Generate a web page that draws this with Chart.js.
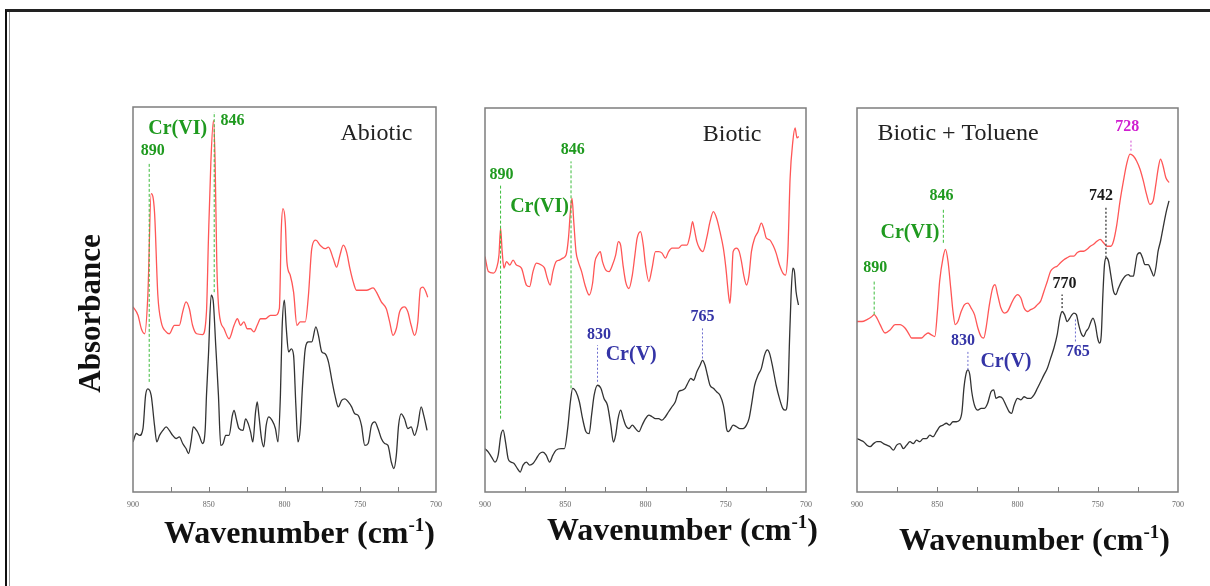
<!DOCTYPE html>
<html>
<head>
<meta charset="utf-8">
<script src="https://cdn.jsdelivr.net/npm/chart.js@4.4.0/dist/chart.umd.min.js"></script>
<style>
  body { margin: 0; background: #fff; width: 1210px; height: 586px; overflow: hidden; position: relative; }
  .frame { position: absolute; left: 5px; top: 9px; width: 1300px; height: 700px; border-left: 2px solid #111; border-top: 3px solid #222; }
  .frame2 { position: absolute; left: 9px; top: 12px; width: 1300px; height: 700px; border-left: 1px solid #999; }
  canvas { position: absolute; }
</style>
</head>
<body>
<div class="frame"></div>
<div class="frame2"></div>
<canvas id="abiotic" width="390" height="465" style="left:60px;top:97px"></canvas>
<canvas id="biotic" width="355" height="464" style="left:471px;top:98px"></canvas>
<canvas id="toluene" width="355" height="464" style="left:843px;top:98px"></canvas>
<script>
// x axis: wavenumber (cm-1), 900 -> 700, y: absorbance (arbitrary units 0-100)
var xTickLabels = [900, 850, 800, 750, 700];
var minorTicks = [875, 850, 825, 800, 775, 750, 725];

// --- Abiotic panel, [wavenumber, absorbance]
var abioticRed = [[900,48.1],[896.7,45.9],[894.5,42.4],[892.3,41.1],[890.2,51.1],[888,77.5],[885.8,72.7],[883.6,51.1],[881.4,44.2],[878.1,41.6],[876,41.1],[872.7,43.3],[869.4,43.3],[867.2,46.8],[865,49.4],[862.8,47.6],[860.7,43.3],[858,41.1],[854.1,40.9],[851.5,46.8],[850.2,65.8],[848.6,85.7],[846.9,96.5],[845.8,85.7],[844.7,59.7],[843.2,46.8],[839.9,42.4],[836.6,39.8],[833.3,43.3],[831.1,45],[829,43.3],[826.8,44.2],[824.6,42.4],[822.4,42.4],[820.2,41.6],[818,43.3],[815.8,45],[812.6,45],[809.3,45.9],[806,45.9],[803.4,47.6],[802.1,68.4],[801,73.6],[799.5,70.1],[798.4,59.7],[796.2,56.3],[794,51.9],[791.8,43.3],[789.6,44.2],[786.3,44.2],[784.2,51.1],[782,63.2],[779.3,65.4],[776.5,64.1],[773.2,63.2],[771,63.6],[767.8,60.6],[765.6,58.4],[763.4,61.5],[761.2,64.1],[759,62.3],[756.8,58],[754.6,54.5],[752.5,52.4],[749.2,52.4],[745.9,52.4],[741.5,53],[739.3,51.9],[736.1,49.4],[732.8,47.6],[730.6,44.2],[728.4,40.7],[726.2,42.4],[724,46.8],[720.8,48.1],[718.6,46.8],[716.4,43.3],[714.2,40.7],[712,44.2],[710.3,52.8],[708.7,53.2],[706.6,51.9],[705.5,50.6]];
var abioticBlack = [[900,13],[897.8,15.2],[895.6,14.7],[893.4,16.5],[891.7,25.1],[890.2,26.8],[888,25.1],[885.8,17.3],[884.3,13],[882.5,14.7],[880.3,16],[878.1,16.9],[876,16],[873.8,14.7],[871.6,13.9],[869.4,14.3],[867.2,12.6],[865,11.3],[863.3,10],[861.7,13],[860.2,16.9],[858,16],[856.3,14.7],[854.1,12.6],[852.3,16.5],[851.5,25.1],[850.2,35.5],[848.4,51.1],[847.1,49.8],[845.4,38.1],[843.6,25.1],[842.1,12.1],[840.5,12.6],[838.8,14.7],[836.6,14.7],[834.4,19.9],[833.3,21.2],[831.8,19],[830.1,16.5],[827.4,16],[825.7,19],[823.9,17.7],[822.4,15.6],[820.9,13],[819.1,20.8],[818,23.4],[816.9,19.9],[815.2,13.9],[813.7,11.7],[812.1,17.3],[810.4,19.5],[808.2,18.6],[806,16.5],[804.3,13],[802.7,25.1],[801.6,42.4],[800.1,49.8],[798.8,42.4],[797.3,36.4],[795.5,37.2],[794,35.5],[792.5,22.5],[791.1,13],[789.6,16.5],[788.1,27.7],[786.3,37.2],[784.2,39],[782,39],[779.3,42.9],[777.6,40.7],[775.4,36.4],[773.2,35.9],[771,33.8],[768.9,29.4],[766.7,25.1],[764.5,22.1],[762.3,23.8],[760.1,24.2],[757.9,23.4],[755.7,22.1],[753.6,20.3],[751.4,19.9],[749.2,17.3],[747,12.1],[744.8,12.6],[742.6,17.3],[740.4,18.2],[738.3,16.5],[736.1,13.9],[733.9,12.6],[731.7,12.1],[729.5,7.8],[727.8,6.1],[726.2,9.5],[724.7,17.3],[723,20.3],[720.8,19],[718.6,16.5],[716.4,16.9],[714.2,14.7],[712,17.3],[709.8,22.1],[708.1,19.9],[705.9,16]];

// --- Biotic panel
var bioticRed = [[900,61.3],[897.9,57.4],[894.8,57],[892.8,58.3],[891.3,61.7],[890.3,68.7],[889.3,62.6],[888.2,58.3],[886.6,60],[884.5,59.1],[882.5,60.4],[880.4,59.1],[877.3,58.3],[874.2,53.9],[872.2,53.5],[870.1,57.4],[868,59.6],[864.9,59.1],[862.9,58.3],[861.2,55.7],[859.4,53.9],[857.7,57.4],[855.7,60],[853.6,60.4],[851.5,60.9],[849.5,61.7],[848,66.1],[846.8,73],[845.8,76.5],[844.7,70.4],[843.3,62.6],[841.9,60],[839.8,57.4],[837.7,53.9],[835.1,51.3],[833,54.3],[831.5,60],[829.9,61.7],[828.2,62.6],[826.8,60],[824.7,57.8],[822.7,57.4],[820.6,59.1],[818.6,61.7],[816.9,65.2],[815.5,64.3],[814,59.1],[812.4,54.8],[810.3,53],[808.2,56.5],[806.6,61.7],[805.2,66.1],[803.1,67.8],[801.4,64.3],[800,59.1],[797.9,54.8],[795.9,58.3],[793.8,62.6],[791.8,62.6],[789.7,62.2],[787.6,60.9],[785.6,62.6],[783.5,63.5],[781.4,63.5],[779.4,63.5],[777.3,64.3],[774.2,64.3],[772.2,67],[770.7,70.4],[769.7,68.7],[768,65.2],[766.4,63.5],[764.3,62.6],[761.9,66.1],[759.8,70.4],[757.7,73],[755.7,71.3],[753.6,67.8],[751.5,63.5],[749.9,58.3],[748.5,52.2],[747.4,49.1],[746.4,54.8],[745.4,62.6],[743.3,63.5],[741.6,62.6],[740.2,60],[738.8,56.5],[737.1,53.9],[735.5,56.5],[734,62.6],[732,66.1],[729.9,67.8],[727.8,70],[726.4,68.7],[724.7,66.1],[722.7,65.7],[720.6,64.3],[718.6,62.2],[716.5,59.1],[714.4,57],[712.8,56.5],[711.3,62.6],[709.9,81.7],[708.2,91.3],[706.8,94.8],[705.6,92.2],[704.5,92.6]];
var bioticBlack = [[900,11.3],[897.9,10.4],[895.9,9.1],[893.8,7.8],[891.8,9.6],[890.1,14.8],[888.7,16.1],[887.2,13],[885.6,8.7],[883.9,7.8],[881.9,7.4],[879.8,6.1],[878.1,5.2],[876.3,7],[874.2,7.8],[872.2,7],[870.1,7.4],[868,8.7],[866,10],[863.9,10.4],[861.9,9.6],[859.8,7.8],[857.7,9.6],[855.7,10.9],[852.6,11.3],[850.5,11.3],[848.5,16.5],[846.8,23.5],[845.4,27],[843.3,26.1],[841.2,23.5],[839.2,19.1],[837.1,15.7],[835.1,15.2],[833.6,20],[832,25.2],[829.9,27.8],[827.8,27],[825.8,24.3],[823.7,22.6],[821.6,17.4],[820,13],[818.6,14.8],[817.1,19.1],[815.5,21.3],[813.8,19.1],[812.4,17.4],[810.3,16.5],[808.2,17.4],[806.2,16.5],[804.1,15.7],[802.1,17.4],[800,19.1],[797.9,20],[795.9,19.6],[793.8,19.1],[791.8,19.1],[789.7,18.7],[787.6,19.6],[785.6,20.9],[783.5,22.2],[781.4,23.5],[779.4,26.1],[777.3,26.5],[775.3,27],[773.2,28.7],[771.8,29.6],[770.1,29.1],[768,31.3],[766,33],[764.5,34.3],[762.9,33],[761.4,30.4],[759.8,27.8],[757.7,27],[755.7,26.1],[753.6,25.2],[751.5,22.6],[750.5,20],[749.5,16.5],[748.5,15.7],[747.4,16.1],[745.4,17.4],[743.3,17],[741.2,16.5],[739.2,16.5],[737.1,17.4],[735.5,19.1],[734,22.6],[732,27.8],[729.9,30.4],[727.8,32.2],[725.8,35.7],[724.1,37],[722.7,36.1],[720.6,32.2],[718.6,27.8],[716.5,24.3],[714.4,21.7],[712.8,21.3],[711.3,25.2],[710.3,39.1],[709.3,51.3],[708.2,58.3],[707.2,57.4],[706.2,52.2],[704.7,48.7]];

// --- Biotic + Toluene panel
var tolueneRed = [[900,44.4],[896.9,44.4],[893.8,44.9],[890.7,45.7],[889.3,46.2],[887.6,45.3],[885.6,43.6],[882.5,41.4],[879.4,42.2],[876.3,43.6],[873.2,43.6],[870.1,42.7],[868,41.4],[866,40.1],[862.9,40.1],[859.8,40.1],[857.7,40.9],[855.7,41.4],[853.6,40.9],[851.5,40.5],[849.9,47],[848.5,54.9],[846.4,61],[844.9,63.2],[843.3,60.1],[841.6,53.1],[840.2,47],[838.8,43.6],[837.1,44.4],[835.1,47],[833,48.8],[830.9,49.2],[828.9,47.9],[826.8,46.2],[824.7,42.7],[822.7,40.5],[821,40.1],[819.6,42.7],[817.5,48.8],[815.5,53.1],[814,54],[812.4,51.4],[810.3,47.9],[808.2,46.6],[806.2,47],[804.1,48.8],[802.1,50.5],[800,51.4],[797.9,50.5],[795.9,47.9],[793.8,47],[791.8,47.5],[789.7,47.9],[787.6,48.8],[785.6,49.7],[783.5,52.3],[781.4,54.9],[779.4,57.5],[777.3,58.4],[775.3,58.8],[773.2,59.7],[771.1,60.5],[769.1,61],[767,61.4],[764.9,61.4],[762.9,62.3],[760.8,62.7],[758.8,62.7],[756.7,63.2],[754.6,64],[752.6,64.5],[750.5,65.3],[748.5,65.8],[746.4,64.9],[744.3,64],[741.9,64],[740.2,65.3],[738.1,69.7],[736.1,75.8],[734,81],[732,85.4],[729.9,88],[727.8,87.5],[725.8,86.2],[723.7,84.1],[721.6,81],[719.6,77.5],[717.5,74.9],[715.5,75.8],[713.8,80.1],[712.4,84.1],[710.9,86.7],[709.3,84.9],[707.6,81.9],[705.6,80.6]];
var tolueneBlack = [[900,13.9],[897.9,13.5],[895.9,13.1],[893.8,12.2],[891.8,11.8],[889.7,12.6],[887.6,13.1],[885.6,13.1],[883.5,12.6],[881.4,12.2],[879.4,11.8],[877.3,10.9],[875.3,12.2],[873.2,12.6],[871.1,11.3],[869.1,12.2],[867,13.1],[864.9,12.6],[862.9,13.5],[860.8,13.1],[858.8,13.9],[856.7,13.9],[854.6,14.8],[852.6,14.4],[850.5,15.7],[848.5,17],[846.4,17.4],[844.3,17.9],[842.3,17.4],[840.2,18.3],[838.1,18.3],[836.1,18.7],[834.6,20.9],[833.4,27],[832,30.9],[830.9,31.8],[829.7,30.5],[828.5,26.1],[826.8,22.6],[824.7,21.3],[822.7,21.8],[820.6,21.8],[818.6,23.1],[816.5,26.1],[814.8,26.6],[813.4,24.4],[811.3,24.8],[809.3,24.4],[807.2,22.6],[805.2,20.9],[803.7,20.5],[802.1,22.6],[800,24.4],[797.9,24],[795.9,24.8],[793.8,24.4],[791.8,24.4],[789.7,25.3],[787.6,27],[785.6,28.7],[783.5,30.5],[781.4,32.2],[779.4,34.8],[777.3,37.5],[775.3,40.9],[773.6,45.3],[772.2,47],[770.7,46.2],[769.1,44.4],[767.4,45.3],[766,46.2],[764.9,46.6],[763.3,46.2],[761.9,43.6],[760.4,41.4],[758.8,40.5],[757.3,41.8],[755.7,42.7],[754.2,44.4],[753,45.3],[751.5,43.6],[750.1,40.1],[748.9,38.8],[747.8,40.9],[746.8,51.4],[745.8,59.2],[744.7,61],[743.3,60.1],[741.9,56.6],[740.2,52.3],[738.8,51.4],[737.1,53.1],[735.1,54.9],[733,56.2],[730.9,56.6],[729.5,56.2],[727.8,56.2],[726.8,58.4],[725.4,61.8],[723.7,62.3],[722.1,61],[720.6,59.2],[718.6,59.2],[716.5,57.5],[715.1,56.2],[713.8,58.4],[712.4,62.7],[710.9,65.3],[709.3,68.8],[707.2,73.2],[705.6,75.8]];

// peak markers: [wavenumber, from, to, kind]
var abioticMarks = [[889.3, 28.6, 85.3, 'cr6'], [846.4, 51.9, 98.7, 'cr6']];
var bioticMarks = [[890.3, 19.1, 80, 'cr6'], [846.4, 27, 86.1, 'cr6'], [829.9, 28.7, 38.3, 'cr5'], [764.5, 34.8, 43, 'cr5']];
var tolueneMarks = [[889.3, 46.2, 55.3, 'cr6'], [846.2, 64.9, 74, 'cr6'], [830.9, 31.8, 37, 'cr5'], [772.2, 47.9, 51.4, 'mid'], [763.9, 39.2, 45.3, 'cr5'], [744.9, 61, 74.5, 'mid'], [729.3, 88.9, 91.9, 'tol']];

// peak labels: [text, wavenumber, absorbance, kind]
var abioticLabels = [['890', 886.9, 88.7, 'cr6'], ['846', 834.4, 96.5, 'cr6'], ['Cr(VI)', 870.5, 94.4, 'cr6']];
var bioticLabels = [['890', 889.7, 82.6, 'cr6'], ['846', 845.4, 89.1, 'cr6'], ['Cr(VI)', 866, 74.3, 'cr6'],
  ['830', 828.9, 41, 'cr5'], ['Cr(V)', 808.9, 35.7, 'cr5'], ['765', 764.5, 45.7, 'cr5']];
var tolueneLabels = [['890', 888.7, 58.4, 'cr6'], ['846', 847.4, 77.1, 'cr6'], ['Cr(VI)', 867, 67.5, 'cr6'],
  ['830', 834, 39.4, 'cr5'], ['Cr(V)', 807.2, 34, 'cr5'], ['770', 770.7, 54.2, 'mid'], ['765', 762.5, 36.4, 'cr5'],
  ['742', 748, 77.1, 'mid'], ['728', 731.6, 95, 'tol']];

var textColors = { cr6: '#1f9a1f', cr5: '#3434a6', mid: '#1a1a1a', tol: '#d01fd0' };
var lineColors = { cr6: '#3cbc3c', cr5: '#6f6fd0', mid: '#555555', tol: '#d04ad0' };
var serif = '"Liberation Serif", "Times New Roman", serif';

var panelDecor = {
  id: 'panelDecor',
  afterDatasetsDraw: function(chart, args, o) {
    var ctx = chart.ctx, a = chart.chartArea, x = chart.scales.x, y = chart.scales.y;
    ctx.save();
    // box
    ctx.strokeStyle = '#7d7d7d';
    ctx.lineWidth = 1.5;
    ctx.strokeRect(a.left, a.top, a.right - a.left, a.bottom - a.top);
    // small inward ticks
    ctx.lineWidth = 1;
    minorTicks.forEach(function(v) {
      var px = Math.round(x.getPixelForValue(v)) + 0.5;
      ctx.beginPath(); ctx.moveTo(px, a.bottom); ctx.lineTo(px, a.bottom - 5); ctx.stroke();
    });
    // peak marker lines
    o.marks.forEach(function(m) {
      var px = x.getPixelForValue(m[0]);
      ctx.strokeStyle = lineColors[m[3]];
      ctx.lineWidth = m[3] == 'mid' ? 1.5 : 1;
      ctx.setLineDash(m[3] == 'cr6' ? [3, 2] : [2, 2]);
      ctx.beginPath(); ctx.moveTo(px, y.getPixelForValue(m[1])); ctx.lineTo(px, y.getPixelForValue(m[2])); ctx.stroke();
    });
    ctx.setLineDash([]);
    // peak labels
    ctx.textAlign = 'center';
    ctx.textBaseline = 'middle';
    o.labels.forEach(function(l) {
      var big = l[0].indexOf('Cr') == 0;
      ctx.font = 'bold ' + (big ? 20 : 16) + 'px ' + serif;
      ctx.fillStyle = textColors[l[3]];
      ctx.fillText(l[0], x.getPixelForValue(l[1]), y.getPixelForValue(l[2]));
    });
    // panel name
    ctx.font = '24px ' + serif;
    ctx.fillStyle = '#222';
    ctx.fillText(o.name[0], x.getPixelForValue(o.name[1]), y.getPixelForValue(o.name[2]));
    // x axis title with superscript
    ctx.textAlign = 'left';
    ctx.textBaseline = 'alphabetic';
    ctx.fillStyle = '#111';
    ctx.font = 'bold 32px ' + serif;
    var w1 = ctx.measureText('Wavenumber (cm').width, w3 = ctx.measureText(')').width;
    ctx.font = 'bold 19px ' + serif;
    var w2 = ctx.measureText('-1').width;
    var x0 = a.right + o.titleDx - (w1 + w2 + w3), yb = a.bottom + o.titleDy;
    ctx.font = 'bold 32px ' + serif;
    ctx.fillText('Wavenumber (cm', x0, yb);
    ctx.fillText(')', x0 + w1 + w2, yb);
    ctx.font = 'bold 19px ' + serif;
    ctx.fillText('-1', x0 + w1, yb - 12);
    // y axis title (first panel only)
    if (o.yTitle) {
      ctx.translate(a.left - 41, (a.top + a.bottom) / 2 + 14);
      ctx.rotate(-Math.PI / 2);
      ctx.textAlign = 'center';
      ctx.textBaseline = 'middle';
      ctx.font = 'bold 31px ' + serif;
      ctx.fillText('Absorbance', 0, 0);
    }
    ctx.restore();
  }
};

function toPoints(pairs) {
  return pairs.map(function(p) { return { x: p[0], y: p[1] }; });
}

function makePanel(id, red, black, decor, pad) {
  return new Chart(document.getElementById(id), {
    type: 'line',
    data: {
      datasets: [
        { label: 'red', data: toPoints(red), borderColor: '#ff5656', borderWidth: 1.3, pointRadius: 0, cubicInterpolationMode: 'monotone' },
        { label: 'black', data: toPoints(black), borderColor: '#333333', borderWidth: 1.3, pointRadius: 0, cubicInterpolationMode: 'monotone' }
      ]
    },
    options: {
      responsive: false,
      animation: false,
      layout: { padding: pad },
      plugins: { legend: { display: false }, tooltip: { enabled: false }, panelDecor: decor },
      scales: {
        x: {
          type: 'linear', reverse: true, min: 700, max: 900,
          grid: { display: false, drawTicks: false },
          border: { display: false },
          afterBuildTicks: function(s) { s.ticks = xTickLabels.map(function(v) { return { value: v }; }); },
          ticks: { padding: 8, autoSkip: false, maxRotation: 0, color: '#666', font: { family: serif, size: 8 } },
          afterFit: function(s) { s.height = 70; }
        },
        y: { display: false, min: 0, max: 100 }
      }
    },
    plugins: [panelDecor]
  });
}

makePanel('abiotic', abioticRed, abioticBlack,
  { marks: abioticMarks, labels: abioticLabels, name: ['Abiotic', 739.3, 93], titleDx: -1, titleDy: 51, yTitle: true },
  { left: 73, right: 12, top: 10, bottom: 0 });
makePanel('biotic', bioticRed, bioticBlack,
  { marks: bioticMarks, labels: bioticLabels, name: ['Biotic', 746, 93], titleDx: 12, titleDy: 48 },
  { left: 12, right: 20, top: 10, bottom: 0 });
makePanel('toluene', tolueneRed, tolueneBlack,
  { marks: tolueneMarks, labels: tolueneLabels, name: ['Biotic + Toluene', 837.1, 93.2], titleDx: -8, titleDy: 58 },
  { left: 12, right: 20, top: 10, bottom: 0 });
</script>
</body>
</html>
